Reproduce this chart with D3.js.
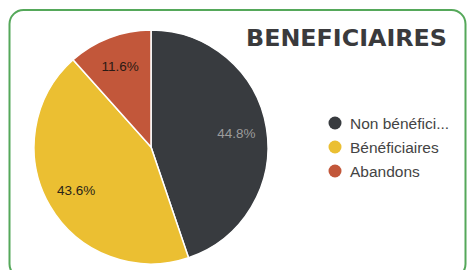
<!DOCTYPE html>
<html>
<head>
<meta charset="utf-8">
<script src="https://cdn.jsdelivr.net/npm/d3@7"></script>
<style>
  body { margin: 0; background: #fff; }
</style>
</head>
<body>
<div id="chart"></div>
<script>
var width = 469;
var height = 270;

// data
var categories = ["Non bénéficiaires", "Bénéficiaires", "Abandons"];
var legendLabels = ["Non bénéfici...", "Bénéficiaires", "Abandons"];
var values = [44.8, 43.6, 11.6];
var colors = ["#383b3f", "#ebbf32", "#c2573a"];
var labelColors = ["#9c9c9c", "#2a2418", "#2a1a14"];

var svg = d3.select("#chart").append("svg")
  .attr("width", width)
  .attr("height", height);

// green rounded frame
svg.append("rect")
  .attr("x", 9.5)
  .attr("y", 10)
  .attr("width", 456)
  .attr("height", 268)
  .attr("rx", 14)
  .attr("fill", "#fff")
  .attr("stroke", "#55a85a")
  .attr("stroke-width", 2);

svg.append("text")
  .attr("x", 246)
  .attr("y", 46)
  .attr("font-family", "'DejaVu Sans', sans-serif")
  .attr("font-weight", 700)
  .attr("font-size", 23.5)
  .attr("textLength", 201)
  .attr("lengthAdjust", "spacingAndGlyphs")
  .attr("fill", "#3a3a3c")
  .text("BENEFICIAIRES");

var cx = 151, cy = 147, r = 117;

var pie = d3.pie().sort(null).value(function(d) { return d; });
var arcs = pie(values);

var arc = d3.arc().innerRadius(0).outerRadius(r);
var labelArc = d3.arc().innerRadius(r * 0.74).outerRadius(r * 0.74);

var g = svg.append("g")
  .attr("transform", "translate(" + cx + "," + cy + ")");

g.selectAll("path")
  .data(arcs)
  .enter().append("path")
    .attr("d", arc)
    .attr("fill", function(d, i) { return colors[i]; })
    .attr("stroke", "#fff")
    .attr("stroke-width", 1.5);

g.selectAll("text")
  .data(arcs)
  .enter().append("text")
    .attr("transform", function(d) { return "translate(" + labelArc.centroid(d) + ")"; })
    .attr("text-anchor", "middle")
    .attr("dy", "0.35em")
    .attr("font-family", "'Liberation Sans', Arial, sans-serif")
    .attr("font-size", 13.5)
    .attr("fill", function(d, i) { return labelColors[i]; })
    .text(function(d) { return d.data.toFixed(1) + "%"; });

// legend
var legend = svg.append("g")
  .attr("transform", "translate(335,123)");

var item = legend.selectAll("g")
  .data(legendLabels)
  .enter().append("g")
    .attr("transform", function(d, i) { return "translate(0," + (i * 24) + ")"; });

item.append("circle")
  .attr("r", 6.5)
  .attr("fill", function(d, i) { return colors[i]; });

item.append("text")
  .attr("x", 15)
  .attr("dy", "0.36em")
  .attr("font-family", "'Liberation Sans', Arial, sans-serif")
  .attr("font-size", 15.5)
  .attr("fill", "#444")
  .text(function(d) { return d; });
</script>
</body>
</html>
